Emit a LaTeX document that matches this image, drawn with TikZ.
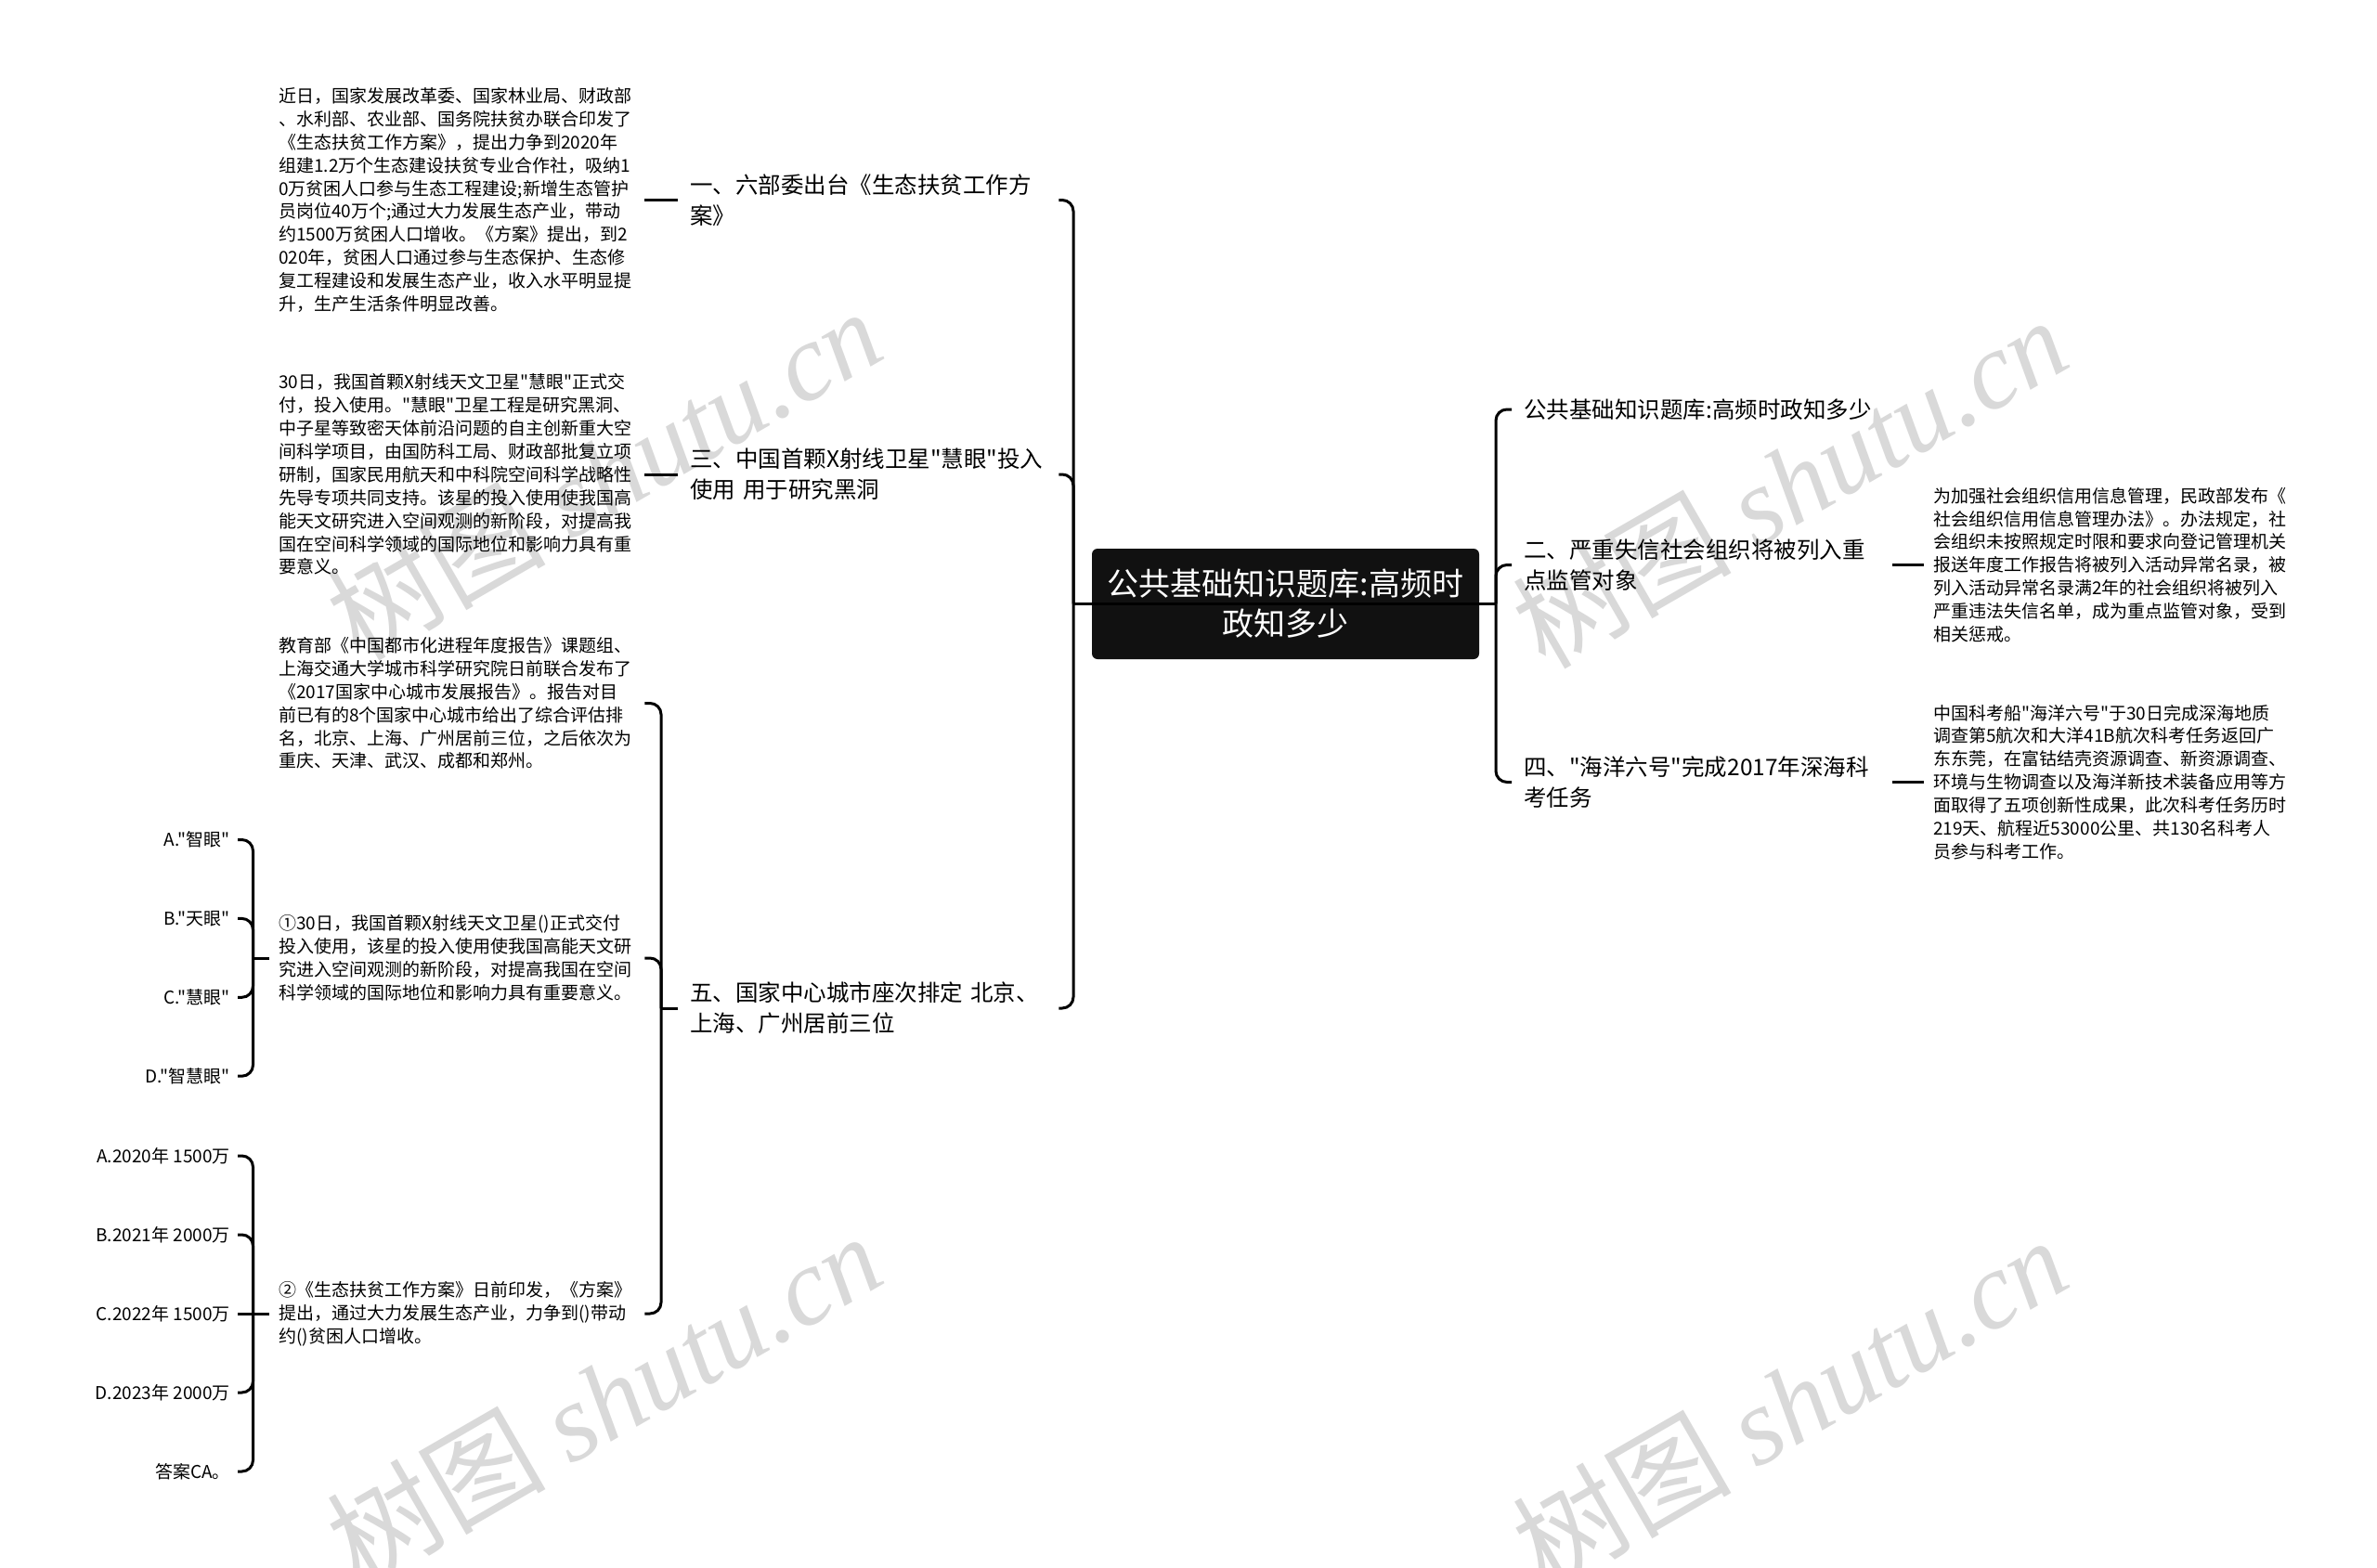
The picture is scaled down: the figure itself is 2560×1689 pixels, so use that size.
\documentclass[tikz,border=0pt]{standalone}
\usepackage{fontspec}
\setmainfont{Noto Sans CJK SC}[Ligatures=TeXOff]
\newfontfamily\wmlat{Liberation Serif}
\definecolor{wmgray}{HTML}{D9D9D9}
\definecolor{rootfill}{HTML}{111111}
\newcommand\wmtxt{树图 {\wmlat\itshape shutu.cn}}
\tikzset{
  conn/.style={line width=3pt, rounded corners=12pt},
  para/.style={anchor=west, inner xsep=10pt, inner ysep=2pt, text width=384pt, align=left, font=\fontsize{19}{24.9}\selectfont},
  lvl/.style={anchor=west, inner xsep=13pt, inner ysep=2pt, text width=384pt, align=left, font=\fontsize{24.5}{32.7}\selectfont},
  opt/.style={anchor=east, inner xsep=8pt, font=\fontsize{19}{24.9}\selectfont},
  rootbox/.style={fill=rootfill, rounded corners=6pt, minimum width=417pt, minimum height=119pt, text=white, align=center, font=\fontsize{34}{43}\selectfont, inner sep=0pt},
  wmark/.style={text=wmgray, rotate=30, font=\fontsize{118}{118}\selectfont, inner sep=0pt}
}
\begin{document}
\begin{tikzpicture}[x=1pt,y=-1pt]
\useasboundingbox (0,0) rectangle (2560,1689);
\fill[white] (0,0) rectangle (2560,1689);
% watermarks
\node[wmark] (w1) at (650,510) {\wmtxt};
\node[wmark] (w2) at (1927,519) {\wmtxt};
\node[wmark] (w3) at (650,1506) {\wmtxt};
\node[wmark] (w4) at (1927,1510) {\wmtxt};

% root
\node[rootbox] (root) at (1384.5,650.5) {公共基础知识题库:高频时\\政知多少};
\coordinate (bl) at (1156,650.5);
\coordinate (br) at (1611,650.5);

% left level 1
\node[lvl] (n1) at (730,215.5) {一、六部委出台《生态扶贫工作方\\案》};
\node[lvl] (n3) at (730,511) {三、中国首颗X射线卫星"慧眼"投入\\使用 用于研究黑洞};
\node[lvl] (n5) at (730,1086) {五、国家中心城市座次排定 北京、\\上海、广州居前三位};

% left paragraphs
\node[para] (p1) at (290,215.5) {近日，国家发展改革委、国家林业局、财政部\\、水利部、农业部、国务院扶贫办联合印发了\\《生态扶贫工作方案》，提出力争到2020年\\组建1.2万个生态建设扶贫专业合作社，吸纳1\\0万贫困人口参与生态工程建设;新增生态管护\\员岗位40万个;通过大力发展生态产业，带动\\约1500万贫困人口增收。《方案》提出，到2\\020年，贫困人口通过参与生态保护、生态修\\复工程建设和发展生态产业，收入水平明显提\\升，生产生活条件明显改善。};
\node[para] (p2) at (290,511) {30日，我国首颗X射线天文卫星"慧眼"正式交\\付，投入使用。"慧眼"卫星工程是研究黑洞、\\中子星等致密天体前沿问题的自主创新重大空\\间科学项目，由国防科工局、财政部批复立项\\研制，国家民用航天和中科院空间科学战略性\\先导专项共同支持。该星的投入使用使我国高\\能天文研究进入空间观测的新阶段，对提高我\\国在空间科学领域的国际地位和影响力具有重\\要意义。};
\node[para] (p3) at (290,757.5) {教育部《中国都市化进程年度报告》课题组、\\上海交通大学城市科学研究院日前联合发布了\\《2017国家中心城市发展报告》。报告对目\\前已有的8个国家中心城市给出了综合评估排\\名，北京、上海、广州居前三位，之后依次为\\重庆、天津、武汉、成都和郑州。};
\node[para] (q1) at (290,1032) {①30日，我国首颗X射线天文卫星()正式交付\\投入使用，该星的投入使用使我国高能天文研\\究进入空间观测的新阶段，对提高我国在空间\\科学领域的国际地位和影响力具有重要意义。};
\node[para] (q2) at (290,1415) {②《生态扶贫工作方案》日前印发，《方案》\\提出，通过大力发展生态产业，力争到()带动\\约()贫困人口增收。};

% options
\node[opt] (a1) at (256,904.5) {A."智眼"};
\node[opt] (b1) at (256,989.4) {B."天眼"};
\node[opt] (c1) at (256,1074.3) {C."慧眼"};
\node[opt] (d1) at (256,1159.2) {D."智慧眼"};
\node[opt] (a2) at (256,1245) {A.2020年 1500万};
\node[opt] (b2) at (256,1330) {B.2021年 2000万};
\node[opt] (c2) at (256,1415) {C.2022年 1500万};
\node[opt] (d2) at (256,1500) {D.2023年 2000万};
\node[opt] (e2) at (256,1585) {答案CA。};

\coordinate (b5) at (712,1086);
\coordinate (qb1) at (272.5,1032);
\coordinate (qb2) at (272.5,1415);

% right side
\node[lvl] (t0) at (1628,441) {公共基础知识题库:高频时政知多少};
\node[lvl] (n2) at (1628,608.5) {二、严重失信社会组织将被列入重\\点监管对象};
\node[lvl] (n4) at (1628,842.5) {四、"海洋六号"完成2017年深海科\\考任务};
\node[para] (r2) at (2072,608.5) {为加强社会组织信用信息管理，民政部发布《\\社会组织信用信息管理办法》。办法规定，社\\会组织未按照规定时限和要求向登记管理机关\\报送年度工作报告将被列入活动异常名录，被\\列入活动异常名录满2年的社会组织将被列入\\严重违法失信名单，成为重点监管对象，受到\\相关惩戒。};
\node[para] (r4) at (2072,842.5) {中国科考船"海洋六号"于30日完成深海地质\\调查第5航次和大洋41B航次科考任务返回广\\东东莞，在富钴结壳资源调查、新资源调查、\\环境与生物调查以及海洋新技术装备应用等方\\面取得了五项创新性成果，此次科考任务历时\\219天、航程近53000公里、共130名科考人\\员参与科考工作。};

% connectors
\draw[conn] (bl) -- (br);
\draw[conn] (n1.east) -| (bl);
\draw[conn] (n3.east) -| (bl);
\draw[conn] (n5.east) -| (bl);
\draw[conn] (t0.west) -| (br);
\draw[conn] (n2.west) -| (br);
\draw[conn] (n4.west) -| (br);
\draw[conn] (p1.east) -- (n1.west);
\draw[conn] (p2.east) -- (n3.west);
\draw[conn] (n5.west) -- (b5);
\draw[conn] (p3.east) -| (b5);
\draw[conn] (q1.east) -| (b5);
\draw[conn] (q2.east) -| (b5);
\draw[conn] (q1.west) -- (qb1);
\draw[conn] (a1.east) -| (qb1);
\draw[conn] (b1.east) -| (qb1);
\draw[conn] (c1.east) -| (qb1);
\draw[conn] (d1.east) -| (qb1);
\draw[conn] (q2.west) -- (qb2);
\draw[conn] (a2.east) -| (qb2);
\draw[conn] (b2.east) -| (qb2);
\draw[conn] (c2.east) -- (qb2);
\draw[conn] (d2.east) -| (qb2);
\draw[conn] (e2.east) -| (qb2);
\draw[conn] (n2.east) -- (r2.west);
\draw[conn] (n4.east) -- (r4.west);
\end{tikzpicture}
\end{document}
